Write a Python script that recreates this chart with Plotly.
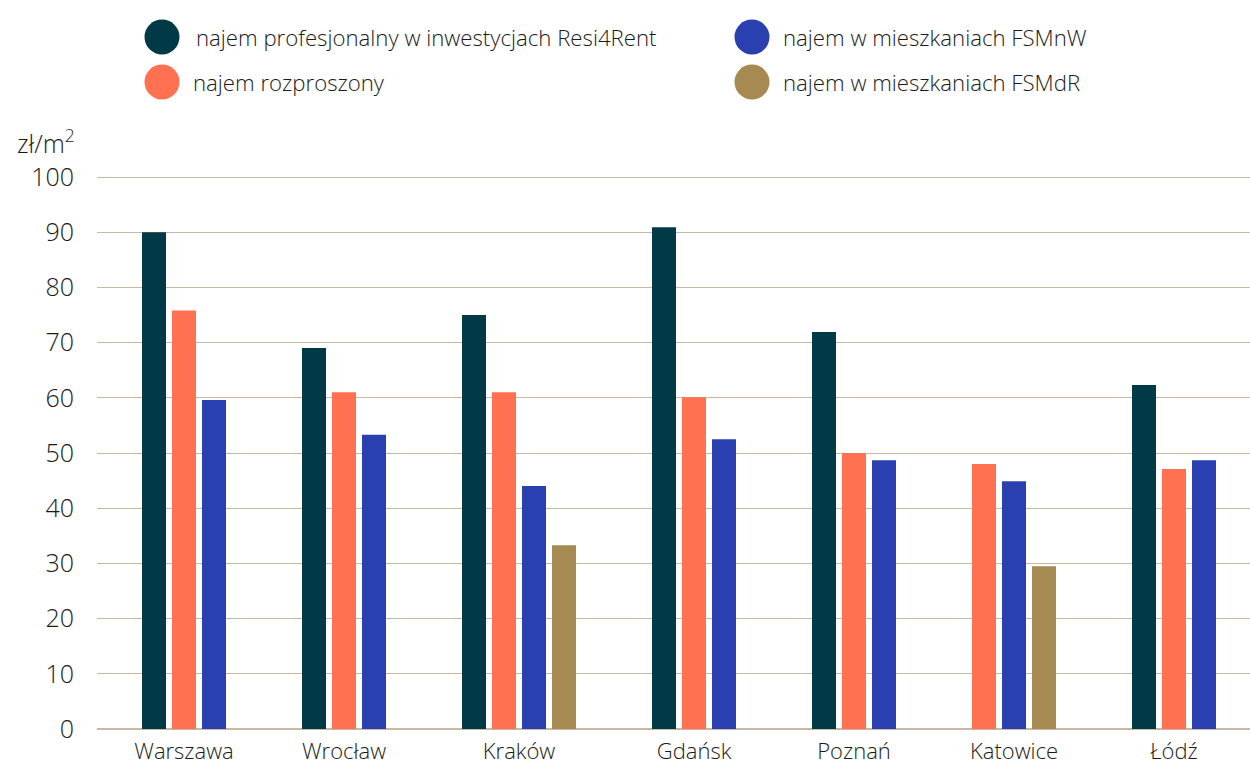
import plotly.graph_objects as go

# Monthly rent per m² by city and rental segment
cities = ["Warszawa", "Wrocław", "Kraków", "Gdańsk", "Poznań", "Katowice", "Łódź"]
series_names = [
    "najem profesjonalny w inwestycjach Resi4Rent",
    "najem rozproszony",
    "najem w mieszkaniach FSMnW",
    "najem w mieszkaniach FSMdR",
]
resi4rent = [90.0, 69.0, 75.0, 90.9, 71.9, None, 62.3]
rozproszony = [75.8, 61.0, 61.0, 60.1, 50.0, 48.0, 47.1]
fsmnw = [59.6, 53.3, 44.0, 52.5, 48.7, 44.9, 48.7]
fsmdr = [None, None, 33.3, None, None, 29.5, None]
colors = ["#023947", "#ff7150", "#2b40b0", "#a68a51"]
y_ticks = list(range(0, 101, 10))

series = [resi4rent, rozproszony, fsmnw, fsmdr]

FONT = "Open Sans, sans-serif"
TXT = "#1a1a1a"
WT = 300

# Layout of bar groups in pixel-like axis units
W, H = 1250, 767
ML, MR, MT, MB = 97, 0, 170, 38
PW, PH = W - ML - MR, H - MT - MB
STEP, BAR_W, GAP, START = 30, 24, 70, 7

positions = [[None] * len(cities) for _ in series]
centers = []
cursor = START
for ci in range(len(cities)):
    present = [si for si, s in enumerate(series) if s[ci] is not None]
    n = len(present)
    width = n * STEP + GAP
    c = cursor + width / 2
    centers.append(c)
    for k, si in enumerate(present):
        positions[si][ci] = c + (k - (n - 1) / 2) * STEP
    cursor += width

fig = go.Figure()
for si, (name, vals) in enumerate(zip(series_names, series)):
    xs = [positions[si][i] for i in range(len(cities)) if vals[i] is not None]
    ys = [v for v in vals if v is not None]
    fig.add_trace(go.Bar(
        x=xs, y=ys, name=name, width=BAR_W,
        marker=dict(color=colors[si], line=dict(width=0)),
        showlegend=False,
    ))

y_top = PH / (729 - 177) * 100


def px_x(px):
    return (px - ML) / PW


def px_y(py):
    return (H - MB - py) / PH


# Legend drawn as large dots with labels
legend_items = [
    (0, 162, 37, 194),
    (1, 162, 82, 191),
    (2, 752, 37, 781),
    (3, 752, 82, 781),
]
shapes = []
annotations = []
R = 17.5
for si, cx, cy, tx in legend_items:
    shapes.append(dict(
        type="circle", xref="paper", yref="paper",
        x0=px_x(cx - R), x1=px_x(cx + R), y0=px_y(cy + R), y1=px_y(cy - R),
        fillcolor=colors[si], line=dict(width=0),
    ))
    annotations.append(dict(
        text=series_names[si], xref="paper", yref="paper",
        x=px_x(tx), y=px_y(cy), xanchor="left", yanchor="middle",
        showarrow=False, font=dict(size=22.2, color=TXT, family=FONT, weight=WT),
    ))

annotations.append(dict(
    text="zł/m<sup>2</sup>", xref="paper", yref="paper",
    x=px_x(77), y=px_y(141), xanchor="right", yanchor="middle",
    showarrow=False, font=dict(size=25, color=TXT, family=FONT, weight=WT),
))

fig.update_layout(
    width=W, height=H,
    margin=dict(l=ML, r=MR, t=MT, b=MB, pad=0),
    paper_bgcolor="white", plot_bgcolor="white",
    font=dict(family=FONT, color=TXT, weight=WT),
    barmode="overlay",
    shapes=shapes, annotations=annotations,
    xaxis=dict(
        range=[0, PW], tickvals=centers, ticktext=cities,
        showgrid=False, zeroline=False, showline=False, ticks="",
        tickfont=dict(size=22, color=TXT, family=FONT, weight=WT),
        ticklabelstandoff=7, automargin=False,
        fixedrange=True,
    ),
    yaxis=dict(
        range=[0, y_top], tickvals=y_ticks,
        showgrid=True, gridcolor="#c9b9a2", gridwidth=1.3,
        zeroline=True, zerolinecolor="#c9b9a2", zerolinewidth=2,
        showline=False, ticks="",
        tickfont=dict(size=25, color=TXT, family=FONT, weight=WT),
        ticklabelstandoff=22, automargin=False,
        fixedrange=True,
    ),
)

fig.write_html("out.html")
